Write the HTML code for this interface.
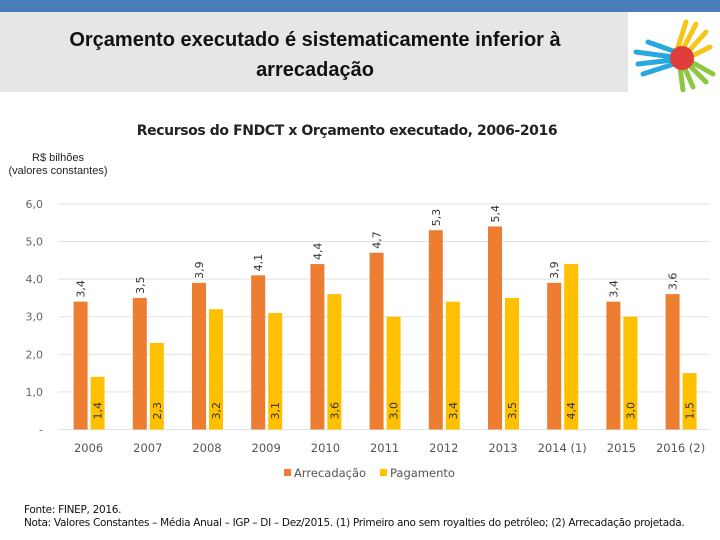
<!DOCTYPE html>
<html><head><meta charset="utf-8"><style>
body{margin:0;width:720px;height:540px;overflow:hidden;background:#fff;font-family:"Liberation Sans",sans-serif;position:relative}
.abs{position:absolute}
</style></head><body>
<div class="abs" style="left:0;top:0;width:720px;height:12px;background:#4a7ebb"></div>
<div class="abs" style="left:0;top:12px;width:628px;height:80px;background:#e6e6e6"></div>
<div class="abs" style="left:0;top:25px;width:630px;text-align:center;font-size:20px;font-weight:bold;line-height:30px;color:#111">Orçamento executado é sistematicamente inferior à<br>arrecadação</div>
<svg class="abs" style="left:628px;top:12px" width="92" height="80">
<g stroke-linecap="round" stroke-width="5">
<path d="M50 35 L58 10 M55 37 L68 12 M60 40 L78 20 M62 45 L82 35" stroke="#f5c518"/>
<path d="M45 45 L8 40 M45 48 L10 52 M46 52 L15 62 M48 40 L20 30" stroke="#29a8e0"/>
<path d="M55 52 L65 75 M58 50 L78 70 M60 48 L85 62 M52 55 L55 78" stroke="#8dc63f"/>
</g>
<circle cx="54" cy="46" r="12" fill="#e03c3c"/>
</svg>
<div class="abs" style="left:0;top:123px;width:694px;text-align:center;font-size:14px;font-weight:bold;color:#222;font-family:'DejaVu Sans',sans-serif;letter-spacing:-0.4px">Recursos do FNDCT x Orçamento executado, 2006-2016</div>
<div class="abs" style="left:0;top:152px;width:116px;text-align:center;font-size:11px;line-height:13px;color:#222">R$ bilhões<br>(valores constantes)</div>
<svg class="abs" id="chart" style="left:0;top:0" width="720" height="540"></svg>
<div class="abs" style="left:24px;top:504px;font-size:10.5px;line-height:13px;color:#111;font-family:'DejaVu Sans',sans-serif;letter-spacing:-0.3px">Fonte: FINEP, 2016.<br>Nota: Valores Constantes – Média Anual – IGP – DI – Dez/2015. (1) Primeiro ano sem royalties do petróleo; (2) Arrecadação projetada.</div>
<script>
const categories=["2006","2007","2008","2009","2010","2011","2012","2013","2014 (1)","2015","2016 (2)"];
const arrecadacao=[3.4,3.5,3.9,4.1,4.4,4.7,5.3,5.4,3.9,3.4,3.6];
const pagamento=[1.4,2.3,3.2,3.1,3.6,3.0,3.4,3.5,4.4,3.0,1.5];
const yTicks=[0,1,2,3,4,5,6];
const svg=document.getElementById('chart');
const NS='http://www.w3.org/2000/svg';
const y0=429.5,pxu=37.6,x0=59,step=59.2;
const y=v=>y0-v*pxu;
const xc=i=>x0+step*(i+0.5);
function mk(t,a){const e=document.createElementNS(NS,t);for(const k in a)e.setAttribute(k,a[k]);svg.appendChild(e);return e;}
const fmt=v=>v.toFixed(1).replace('.',',');
yTicks.forEach(t=>{
 const l=mk('line',{x1:58,x2:710,y1:y(t),y2:y(t),stroke:'#e3e3e3','stroke-width':1});
 
 
 const tx=mk('text',{x:43,y:y(t)+4,'text-anchor':'end','font-size':11,fill:'#666','font-family':'DejaVu Sans, sans-serif'});
 tx.textContent=t===0?'-':fmt(t);
 
 
});
categories.forEach((c,i)=>{
 const cx=xc(i);
 const a=arrecadacao[i],p=pagamento[i];
 const r1=mk('rect',{x:cx-15,y:y(a),width:14,height:a*pxu,fill:'#ed7d31'});
 
 
 const r2=mk('rect',{x:cx+2,y:y(p),width:14,height:p*pxu,fill:'#ffc000'});
 
 
 const t1=mk('text',{transform:`translate(${cx-4},${y(a)-4}) rotate(-90)`,'font-size':11,fill:'#333','font-family':'DejaVu Sans, sans-serif'});
 t1.textContent=fmt(a);
 
 
 const t2=mk('text',{transform:`translate(${cx+13},${y0-10}) rotate(-90)`,'font-size':11,fill:'#333','font-family':'DejaVu Sans, sans-serif'});
 t2.textContent=fmt(p);
 
 
 const xl=mk('text',{x:cx,y:452,'text-anchor':'middle','font-size':11.5,fill:'#555','font-family':'DejaVu Sans, sans-serif'});
 xl.textContent=c;
 
 
});
const legend=[['Arrecadação','#ed7d31',284],['Pagamento','#ffc000',380]];
legend.forEach(([n,col,lx])=>{
 const r=mk('rect',{x:lx,y:469,width:7,height:7,fill:col});
 
 
 const t=mk('text',{x:lx+10,y:477,'font-size':11.5,fill:'#555','font-family':'DejaVu Sans, sans-serif'});
 t.textContent=n;
 
 
});
</script>
</body></html>
